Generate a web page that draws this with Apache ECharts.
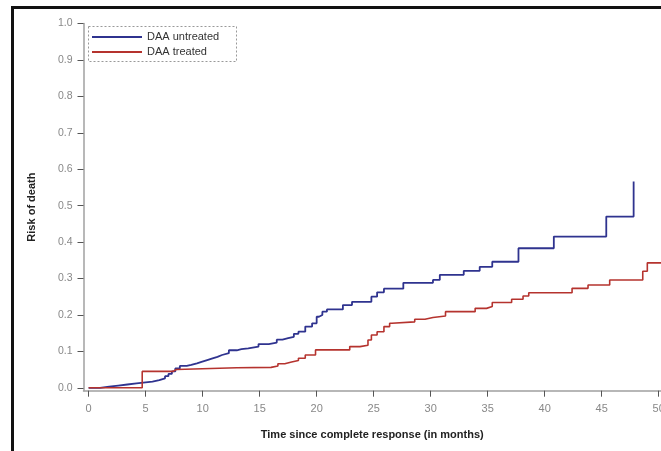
<!DOCTYPE html>
<html>
<head>
<meta charset="utf-8">
<script src="https://cdn.jsdelivr.net/npm/echarts@6/dist/echarts.min.js"></script>
<style>
html,body{margin:0;padding:0;background:#fff;overflow:hidden;}
#chart{width:661px;height:451px;}
</style>
</head>
<body>
<div id="chart"></div>
<script>
const seriesNames = ['DAA untreated', 'DAA treated'];
const xTicks = [0, 5, 10, 15, 20, 25, 30, 35, 40, 45, 50];
const yTicks = [0, 0.1, 0.2, 0.3, 0.4, 0.5, 0.6, 0.7, 0.8, 0.9, 1.0];

const untreatedT = [0, 1.0, 1.8, 2.6, 3.4, 4.2, 5.0, 5.6, 6.2, 6.7, 7.0, 7.3, 7.6, 8.0, 8.6, 9.0, 9.5, 9.9, 10.4, 10.8, 11.3, 11.7, 12.3, 13.0, 13.4, 14.0, 14.9, 15.8, 16.5, 17.0, 17.5, 18.0, 18.4, 19.0, 19.6, 20.0, 20.2, 20.5, 20.9, 22.3, 23.1, 24.8, 25.3, 25.9, 27.6, 30.2, 30.8, 32.9, 34.3, 35.4, 37.7, 40.8, 45.4, 47.8];
const untreatedR = [0, 0.003, 0.006, 0.009, 0.012, 0.015, 0.017, 0.021, 0.026, 0.032, 0.038, 0.045, 0.053, 0.060, 0.063, 0.067, 0.071, 0.076, 0.080, 0.085, 0.090, 0.095, 0.103, 0.106, 0.108, 0.113, 0.120, 0.124, 0.132, 0.136, 0.140, 0.148, 0.154, 0.168, 0.177, 0.195, 0.200, 0.209, 0.215, 0.227, 0.236, 0.250, 0.262, 0.272, 0.288, 0.296, 0.310, 0.321, 0.332, 0.346, 0.383, 0.415, 0.470, 0.566];

const treatedT = [0, 4.7, 7.4, 7.7, 13.0, 16.0, 16.6, 17.2, 17.8, 18.4, 19.0, 19.9, 22.9, 23.8, 24.5, 24.8, 25.3, 25.9, 26.4, 26.6, 28.6, 29.5, 30.2, 31.3, 33.9, 34.9, 35.4, 37.1, 38.1, 38.6, 42.4, 43.8, 45.7, 48.6, 49.0, 50.2];
const treatedR = [0, 0.045, 0.050, 0.055, 0.056, 0.060, 0.066, 0.071, 0.075, 0.081, 0.090, 0.104, 0.113, 0.117, 0.131, 0.145, 0.154, 0.168, 0.177, 0.181, 0.188, 0.193, 0.197, 0.209, 0.218, 0.223, 0.234, 0.243, 0.252, 0.261, 0.273, 0.282, 0.296, 0.320, 0.343, 0.343];

const chart = echarts.init(document.getElementById('chart'), null, {renderer: 'canvas'});
const font = 'Liberation Sans, Arial, sans-serif';

const option = {
  animation: false,
  backgroundColor: '#fff',
  grid: {left: 83.5, right: 0, top: 23.5, bottom: 60.3, containLabel: false, outerBoundsMode: 'none'},
  legend: {
    orient: 'vertical',
    left: 92, top: 29.5,
    padding: 0,
    itemGap: 0,
    itemWidth: 50, itemHeight: 2,
    icon: 'rect',
    textStyle: {fontFamily: font, fontSize: 11, color: '#333', lineHeight: 15},
    data: seriesNames
  },
  xAxis: {
    type: 'value',
    min: -0.45, max: 50.2,
    name: 'Time since complete response (in months)',
    nameLocation: 'middle',
    nameGap: 39,
    nameTextStyle: {fontFamily: font, fontSize: 11, fontWeight: 'bold', color: '#222'},
    axisLine: {show: true, onZero: false, lineStyle: {color: '#a0a0a0', width: 1.5}},
    axisTick: {show: true, length: 6, customValues: xTicks, lineStyle: {color: '#555', width: 1}},
    axisLabel: {show: true, margin: 13, customValues: xTicks, fontFamily: font, fontSize: 11, color: '#888',
      hideOverlap: false, formatter: v => String(Math.round(v))},
    splitLine: {show: false}
  },
  yAxis: {
    type: 'value',
    min: -0.008, max: 1.0,
    name: 'Risk of death',
    nameLocation: 'middle',
    nameGap: 46,
    nameTextStyle: {fontFamily: font, fontSize: 11, fontWeight: 'bold', color: '#222'},
    axisLine: {show: true, onZero: false, lineStyle: {color: '#a0a0a0', width: 1.5}},
    axisTick: {show: true, length: 6, customValues: yTicks, lineStyle: {color: '#555', width: 1}},
    axisLabel: {show: true, margin: 11, customValues: yTicks, fontFamily: font, fontSize: 10.5, color: '#888',
      formatter: v => v.toFixed(1)},
    splitLine: {show: false}
  },
  series: [
    {
      name: seriesNames[0],
      type: 'line',
      step: 'end',
      showSymbol: false,
      color: '#2f338f',
      lineStyle: {width: 1.8, color: '#2f338f'},
      data: untreatedT.map((t, i) => [t, untreatedR[i]])
    },
    {
      name: seriesNames[1],
      type: 'line',
      step: 'end',
      showSymbol: false,
      color: '#b5332e',
      lineStyle: {width: 1.6, color: '#b5332e'},
      data: treatedT.map((t, i) => [t, treatedR[i]])
    }
  ],
  graphic: [
    {type: 'rect', shape: {x: 12.5, y: 7.5, width: 900, height: 900}, style: {fill: 'none', stroke: '#111', lineWidth: 3}, silent: true},
    {type: 'rect', shape: {x: 88.5, y: 26.5, width: 148, height: 35}, style: {fill: 'none', stroke: '#999', lineWidth: 1, lineDash: [2, 2]}, silent: true}
  ]
};
chart.setOption(option);
</script>
</body>
</html>
